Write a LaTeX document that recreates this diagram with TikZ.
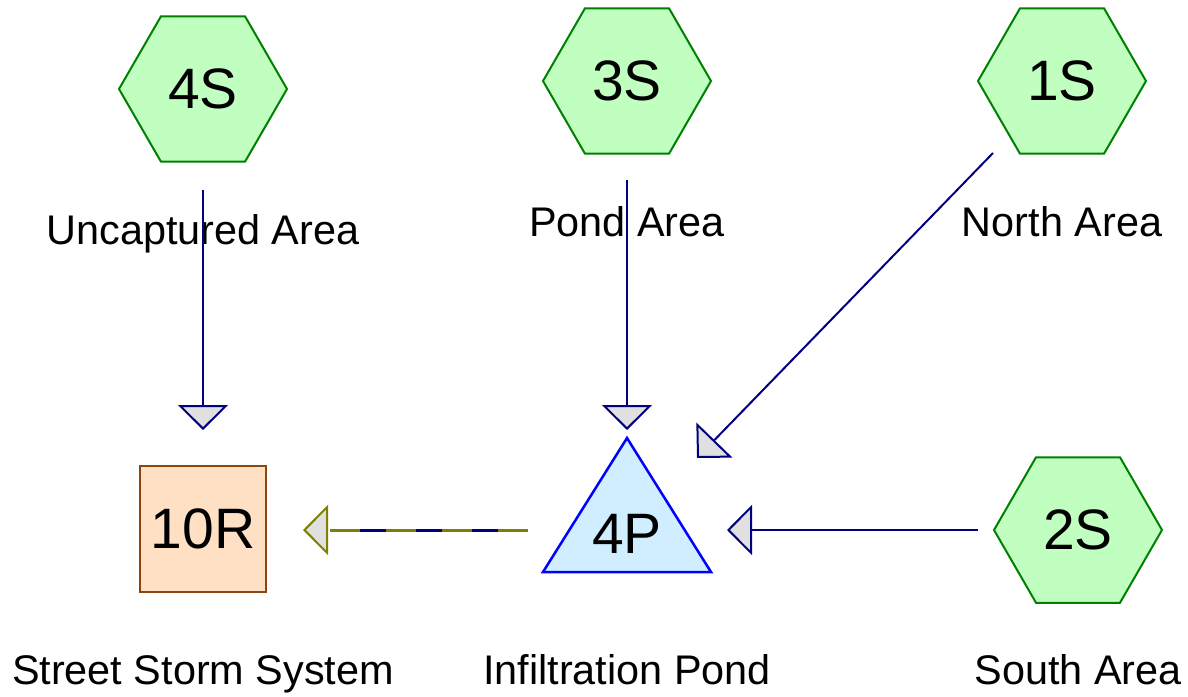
\documentclass[tikz,border=0pt]{standalone}
\usepackage{fontspec}
\setmainfont{Liberation Sans}
\usetikzlibrary{shapes.geometric,arrows.meta}
\definecolor{hexfill}{HTML}{C0FFC0}
\definecolor{hexdraw}{HTML}{008000}
\definecolor{pondfill}{HTML}{D0EEFF}
\definecolor{ponddraw}{HTML}{0000FF}
\definecolor{reachfill}{HTML}{FFE0C4}
\definecolor{reachdraw}{HTML}{8B4513}
\definecolor{link}{HTML}{000080}
\definecolor{headfill}{HTML}{E0E0E0}
\definecolor{oliv}{HTML}{808000}
\begin{document}
\begin{tikzpicture}[x=1pt,y=-1pt,
  hexnode/.style={regular polygon, regular polygon sides=6, minimum size=168pt, inner sep=0pt,
    fill=hexfill, draw=hexdraw, line width=2pt, font=\fontsize{57}{60}\selectfont},
  reachnode/.style={rectangle, minimum size=126pt, inner sep=0pt, fill=reachfill, draw=reachdraw,
    line width=2.5pt, font=\fontsize{57}{60}\selectfont},
  pondshape/.style={fill=pondfill, draw=ponddraw, line width=2.5pt},
  bigtext/.style={inner sep=0pt, font=\fontsize{57}{60}\selectfont},
  lbl/.style={anchor=base, inner sep=0pt, font=\fontsize{41.4}{46}\selectfont},
  flow/.style={draw=link, line width=2pt, -{Triangle[length=25pt,width=50pt,fill=headfill,line width=2pt]}},
  outflow/.style={draw=oliv, line width=3pt, dash pattern=on 30pt off 26pt,
    -{Triangle[length=25pt,width=50pt,fill=headfill,line width=2pt]}},
]
\useasboundingbox (0,0) rectangle (1188,696);

% subcatchments
\node[hexnode] (s4) at (203,89) {4S};
\node[hexnode] (s3) at (627,81) {3S};
\node[hexnode] (s1) at (1062,81) {1S};
\node[hexnode] (s2) at (1078,530) {2S};

% reach
\node[reachnode] (r10) at (203,529) {10R};

% pond
\draw[pondshape] (627,438) -- (711,572) -- (543,572) -- cycle;
\node[bigtext] (p4) at (627,534) {4P};

% labels
\node[lbl] (l4) at (203,244) {Uncaptured Area};
\node[lbl] (l3) at (627,236) {Pond Area};
\node[lbl] (l1) at (1062,236) {North Area};
\node[lbl] (l2) at (1078,684) {South Area};
\node[lbl] (l10) at (203,684) {Street Storm System};
\node[lbl] (lp) at (627,684) {Infiltration Pond};

% connector end points
\coordinate (s4out) at (203,190);
\coordinate (r10in) at (203,430);
\coordinate (s3out) at (627,180);
\coordinate (p4in3) at (627,430);
\coordinate (s1out) at (993,153);
\coordinate (p4in1) at (697,458);
\coordinate (s2out) at (978,530);
\coordinate (p4in2) at (727,530);
\coordinate (p4out) at (528,530);
\coordinate (r10in2) at (303,530);
\coordinate (r10base) at (330,530);

\draw[flow] (s4out) -- (r10in);
\draw[flow] (s3out) -- (p4in3);
\draw[flow] (s1out) -- (p4in1);
\draw[flow] (s2out) -- (p4in2);
\draw[draw=link, line width=3pt] (p4out) -- (r10base);
\draw[outflow] (p4out) -- (r10in2);
\end{tikzpicture}
\end{document}
